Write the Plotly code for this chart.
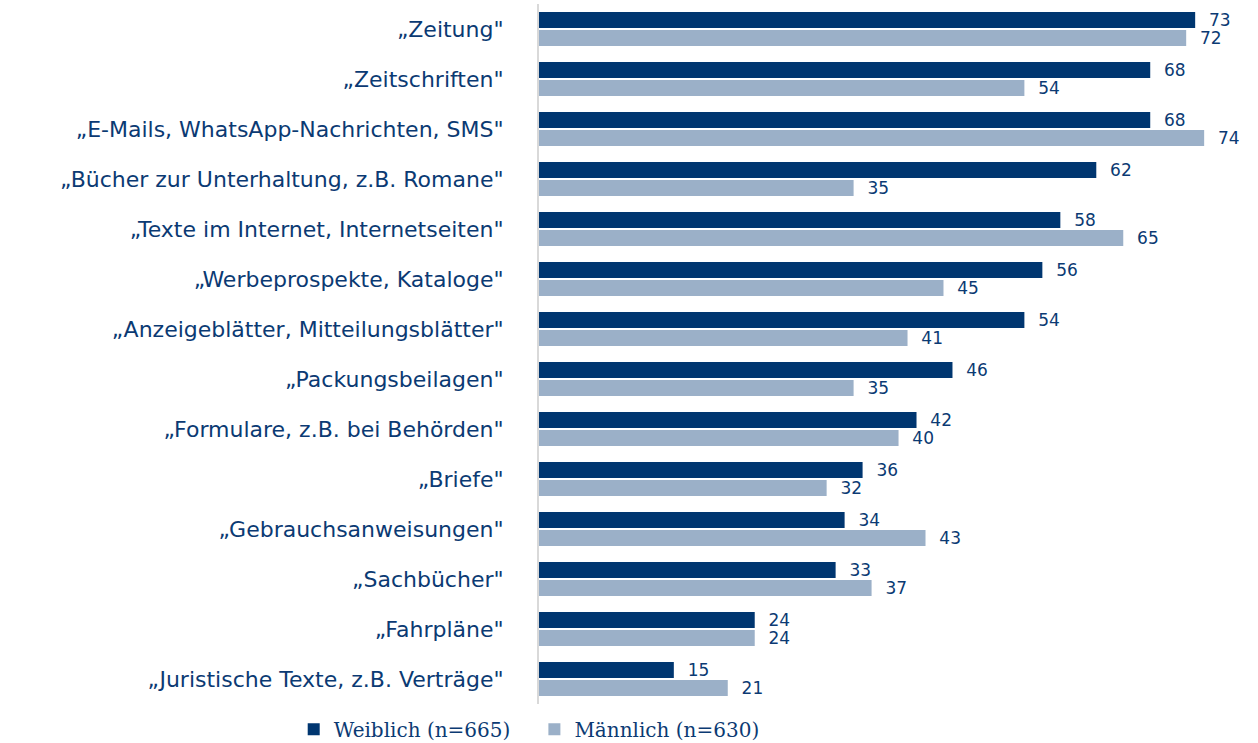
import plotly.graph_objects as go

categories = [
    "„Zeitung\"",
    "„Zeitschriften\"",
    "„E-Mails, WhatsApp-Nachrichten, SMS\"",
    "„Bücher zur Unterhaltung, z.B. Romane\"",
    "„Texte im Internet, Internetseiten\"",
    "„Werbeprospekte, Kataloge\"",
    "„Anzeigeblätter, Mitteilungsblätter\"",
    "„Packungsbeilagen\"",
    "„Formulare, z.B. bei Behörden\"",
    "„Briefe\"",
    "„Gebrauchsanweisungen\"",
    "„Sachbücher\"",
    "„Fahrpläne\"",
    "„Juristische Texte, z.B. Verträge\"",
]
weiblich = [73, 68, 68, 62, 58, 56, 54, 46, 42, 36, 34, 33, 24, 15]
maennlich = [72, 54, 74, 35, 65, 45, 41, 35, 40, 32, 43, 37, 24, 21]
series_names = ["Weiblich (n=665)", "Männlich (n=630)"]

dark = "#003670"
light = "#9BB0C8"
textcol = "#0B3A73"

fig = go.Figure()
for i, (name, vals, col) in enumerate([(series_names[0], weiblich, dark), (series_names[1], maennlich, light)]):
    fig.add_trace(go.Bar(
        y=categories, x=vals, orientation="h",
        name=name + ("\u00a0\u00a0\u00a0" if i == 0 else ""),
        marker=dict(color=col, line=dict(width=0)),
        text=vals, texttemplate="\u00a0\u00a0%{x}", textposition="outside",
        textfont=dict(family="DejaVu Sans", size=17, color=textcol),
        constraintext="none", cliponaxis=False,
    ))

fig.update_layout(
    width=1258, height=743,
    margin=dict(l=539, r=8, t=4, b=39, autoexpand=False),
    paper_bgcolor="white", plot_bgcolor="white",
    barmode="group", bargap=0.28, bargroupgap=0.111,
    showlegend=True,
    legend=dict(orientation="h", x=-0.345, xanchor="left", y=-0.036, yanchor="middle",
                font=dict(family="DejaVu Serif", size=20, color=textcol),
                traceorder="normal", itemwidth=30),
    xaxis=dict(range=[0, 79.1], showgrid=False, zeroline=False, showticklabels=False,
               showline=False, fixedrange=True, automargin=False),
    yaxis=dict(autorange="reversed", showgrid=False, zeroline=False,
               showline=True, linecolor="#D9D9D9", linewidth=2,
               ticks="", ticklabelstandoff=29, automargin=False,
               tickfont=dict(family="DejaVu Sans", size=22, color=textcol)),
)

fig.write_html("out.html", config={"displayModeBar": False},
               post_script="document.body.style.margin='0';document.body.style.overflow='hidden';")
